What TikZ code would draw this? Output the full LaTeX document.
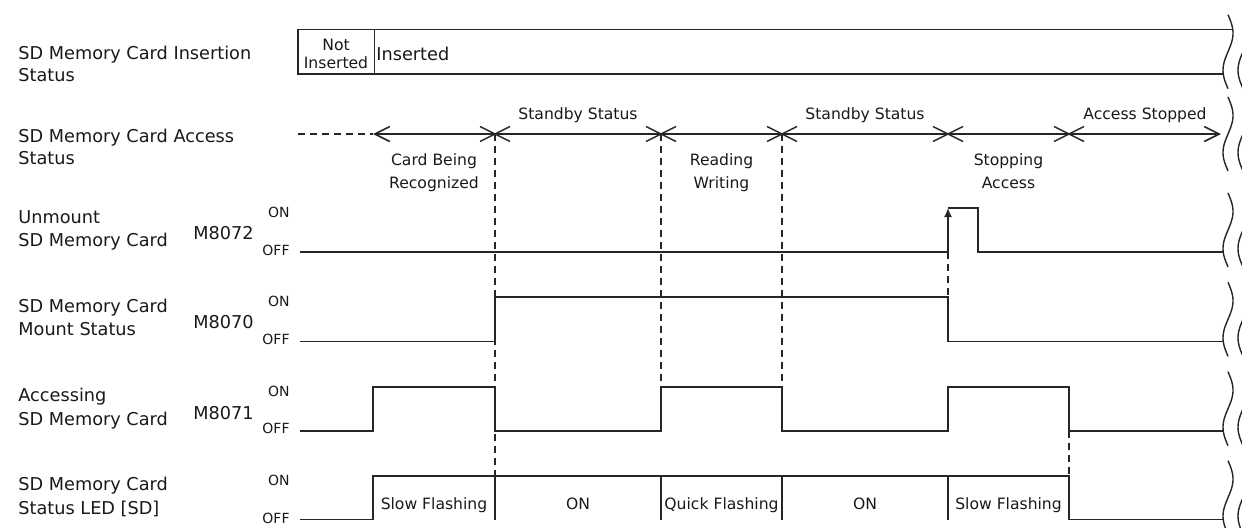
\documentclass[tikz,border=0pt]{standalone}
\usepackage{fontspec}
\setmainfont{DejaVu Sans}
\usetikzlibrary{arrows.meta}
\begin{document}
\begin{tikzpicture}[x=0.5pt,y=-0.5pt]
\tikzset{
 rowlbl/.style={font=\fontsize{8.85}{10}\selectfont, anchor=base west, inner sep=0pt, text=black!90},
 evlbl/.style={font=\fontsize{7.8}{9}\selectfont, anchor=base, inner sep=0pt, text=black!90},
 onoff/.style={font=\fontsize{7}{8}\selectfont, anchor=base east, inner sep=0pt, text=black!90},
 sigline/.style={line width=0.8pt, line join=miter, draw=black!85},
 guide/.style={line width=0.7pt, dash pattern=on 3.5pt off 2.5pt, draw=black!85},
 brk/.style={line width=0.7pt, draw=black!85},
 xmark/.style={line width=0.7pt, draw=black!85},
}
\useasboundingbox (0,0) rectangle (1242,527);

% ---------- left labels ----------
\node[rowlbl] (i1) at (18,59.3) {SD Memory Card Insertion};
\node[rowlbl] (i2) at (18,81.7) {Status};
\node[rowlbl] (a1) at (18,142) {SD Memory Card Access};
\node[rowlbl] (a2) at (18,164.3) {Status};

\node[rowlbl] (u1) at (18,223) {Unmount};
\node[rowlbl] (u2) at (18,246.4) {SD Memory Card};
\node[rowlbl] (um) at (193,239) {M8072};
\node[onoff] (uon) at (290,217.3) {ON};
\node[onoff] (uoff) at (290,255) {OFF};

\node[rowlbl] (m1) at (18,312.5) {SD Memory Card};
\node[rowlbl] (m2) at (18,335.9) {Mount Status};
\node[rowlbl] (mm) at (193,328.3) {M8070};
\node[onoff] (mon) at (290,306.5) {ON};
\node[onoff] (moff) at (290,344.5) {OFF};

\node[rowlbl] (c1) at (18,401.7) {Accessing};
\node[rowlbl] (c2) at (18,425.1) {SD Memory Card};
\node[rowlbl] (cm) at (193,419) {M8071};
\node[onoff] (con) at (290,396) {ON};
\node[onoff] (coff) at (290,433.7) {OFF};

\node[rowlbl] (l1) at (18,490.7) {SD Memory Card};
\node[rowlbl] (l2) at (18,514.1) {Status LED [SD]};
\node[onoff] (lon) at (290,485) {ON};
\node[onoff] (loff) at (290,523) {OFF};

% ---------- insertion status box ----------
\draw[sigline] (1232.7,29.3) -- (298,29.3) -- (298,74) -- (1223.2,74);
\draw[sigline] (374.5,29.3) -- (374.5,74);
\node[evlbl] (ni1) at (336,50) {Not};
\node[evlbl] (ni2) at (336,68.3) {Inserted};
\node[rowlbl] (ins) at (376,60) {Inserted};

% ---------- access status line ----------
\coordinate (as0) at (298,134);
\coordinate (as1) at (373,134);
\coordinate (as2) at (1221,134);
\draw[guide] (as0) -- (as1);
\draw[sigline, {Straight Barb[length=7.5pt,width=7.5pt]}-{Straight Barb[length=7.5pt,width=7.5pt]}] (as1) -- (as2);
\foreach \xx in {495,661,782,948,1069}{
  \draw[xmark] (\xx-15,126.5) -- (\xx+15,141.5) (\xx-15,141.5) -- (\xx+15,126.5);
}
\node[evlbl] (e1) at (434,165) {Card Being};
\node[evlbl] (e2) at (434,188.3) {Recognized};
\node[evlbl] (e3) at (578,119.3) {Standby Status};
\node[evlbl] (e4) at (721.5,165) {Reading};
\node[evlbl] (e5) at (721.5,188.3) {Writing};
\node[evlbl] (e6) at (865,119.3) {Standby Status};
\node[evlbl] (e7) at (1008.5,165) {Stopping};
\node[evlbl] (e8) at (1008.5,188.3) {Access};
\node[evlbl] (e9) at (1145,119.3) {Access Stopped};

% ---------- guide lines ----------
\draw[guide] (495,134) -- (495,475.7);
\draw[guide] (661,134) -- (661,386.7);
\draw[guide] (782,134) -- (782,386.7);
\draw[guide] (948,252) -- (948,297);
\draw[guide] (1069,430.7) -- (1069,475.7);

% ---------- M8072 ----------
\draw[sigline] (300,252) -- (948,252);
\draw[sigline, -{Latex[length=4.5pt,width=4pt]}] (948,252) -- (948,208);
\draw[sigline] (948,208) -- (978,208) -- (978,252) -- (1223.2,252);

% ---------- M8070 ----------
\draw[sigline] (300,341.5) -- (495,341.5) -- (495,297) -- (948,297) -- (948,341.5) -- (1223.2,341.5);

% ---------- M8071 ----------
\draw[sigline] (300,430.7) -- (373,430.7) -- (373,386.7) -- (495,386.7) -- (495,430.7)
  -- (661,430.7) -- (661,386.7) -- (782,386.7) -- (782,430.7) -- (948,430.7)
  -- (948,386.7) -- (1069,386.7) -- (1069,430.7) -- (1223.2,430.7);

% ---------- LED ----------
\draw[sigline] (300,519.5) -- (373,519.5) -- (373,475.7) -- (1069,475.7) -- (1069,519.5) -- (1223.2,519.5);
\foreach \xx in {495,661,782,948}{
  \draw[sigline] (\xx,475.7) -- (\xx,519.5);
}
\node[evlbl] (f1) at (434,509.5) {Slow Flashing};
\node[evlbl] (f2) at (578,509.5) {ON};
\node[evlbl] (f3) at (721.5,509.5) {Quick Flashing};
\node[evlbl] (f4) at (865,509.5) {ON};
\node[evlbl] (f5) at (1008.5,509.5) {Slow Flashing};

% ---------- break marks ----------
\foreach \yc in {51.7,134,230,319.3,408.7,497.6}{
  \draw[brk] plot[domain=0:1,samples=41,smooth] ({1228+5*sin(360*\x)},{\yc-37+74*\x});
  \draw[brk] plot[domain=0:1,samples=41,smooth] ({1243+5*sin(360*\x)},{\yc-37+74*\x});
}
\end{tikzpicture}
\end{document}
